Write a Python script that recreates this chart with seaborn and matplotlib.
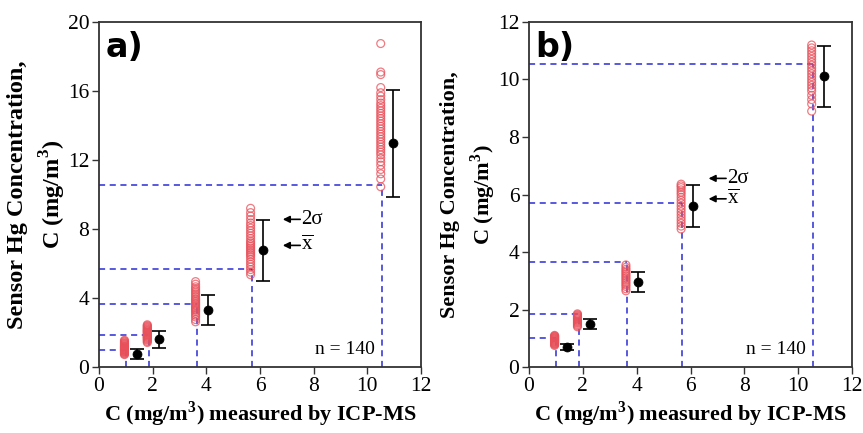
import matplotlib
matplotlib.use("Agg")
import matplotlib.pyplot as plt
import seaborn as sns
import pandas as pd
import numpy as np

# ---------------- data ----------------
ref_conc = [1.0, 1.85, 3.65, 5.7, 10.55]          # ICP-MS reference (mg/m3)
x_ticks = [0, 2, 4, 6, 8, 10, 12]

# panel a: individual sensor readings per reference level
a_g1 = [0.72, 0.76, 0.8, 0.84, 0.88, 0.9, 0.93, 0.96, 0.98, 1.0, 1.02, 1.05, 1.07,
        1.1, 1.12, 1.15, 1.18, 1.2, 1.24, 1.28, 1.32, 1.36, 1.4, 1.45, 1.5, 1.55]
a_g2 = [1.42, 1.48, 1.55, 1.6, 1.65, 1.7, 1.74, 1.78, 1.82, 1.86, 1.9, 1.95, 2.0,
        2.04, 2.08, 2.12, 2.16, 2.2, 2.25, 2.3, 2.35, 2.4, 2.45]
a_g3 = [2.62, 2.75, 2.9, 3.0, 3.1, 3.2, 3.28, 3.35, 3.42, 3.5, 3.58, 3.65, 3.72,
        3.8, 3.88, 3.95, 4.05, 4.15, 4.25, 4.35, 4.45, 4.55, 4.65, 4.8, 4.95]
a_g4 = [5.35, 5.5, 5.65, 5.8, 5.95, 6.1, 6.25, 6.4, 6.5, 6.6, 6.7, 6.8, 6.9, 7.0,
        7.1, 7.2, 7.3, 7.45, 7.6, 7.75, 7.9, 8.05, 8.2, 8.35, 8.55, 8.75, 8.95, 9.2]
a_g5 = [10.45, 10.9, 11.2, 11.45, 11.7, 11.9, 12.1, 12.3, 12.45, 12.6, 12.75, 12.9,
        13.05, 13.2, 13.35, 13.5, 13.65, 13.8, 13.95, 14.1, 14.25, 14.4, 14.55,
        14.7, 14.85, 15.0, 15.15, 15.3, 15.5, 15.7, 15.9, 16.2, 16.95, 17.1, 18.75]
a_mean = [0.77, 1.6, 3.3, 6.78, 12.99]
a_low = [0.46, 1.1, 2.42, 5.0, 9.87]
a_high = [1.06, 2.1, 4.19, 8.52, 16.06]

# panel b
b_g1 = [0.75, 0.78, 0.8, 0.82, 0.84, 0.86, 0.88, 0.9, 0.92, 0.94, 0.96, 0.98,
        1.0, 1.02, 1.04, 1.06, 1.08, 1.1]
b_g2 = [1.4, 1.44, 1.48, 1.52, 1.55, 1.58, 1.61, 1.64, 1.67, 1.7, 1.73, 1.76,
        1.79, 1.82, 1.85]
b_g3 = [2.65, 2.72, 2.8, 2.86, 2.92, 2.98, 3.04, 3.1, 3.16, 3.22, 3.28, 3.34,
        3.4, 3.47, 3.55]
b_g4 = [4.8, 4.9, 5.0, 5.1, 5.2, 5.3, 5.4, 5.5, 5.6, 5.7, 5.8, 5.9, 6.0, 6.08,
        6.16, 6.24, 6.3, 6.36]
b_g5 = [8.9, 9.15, 9.3, 9.45, 9.6, 9.7, 9.8, 9.9, 10.0, 10.1, 10.2, 10.3, 10.4,
        10.5, 10.6, 10.7, 10.8, 10.9, 11.0, 11.1, 11.2]
b_mean = [0.71, 1.48, 2.96, 5.6, 10.12]
b_low = [0.6, 1.31, 2.62, 4.88, 9.05]
b_high = [0.8, 1.67, 3.3, 6.32, 11.18]

mean_xoffset = 0.4
scatter_xoffset = -0.05

# ---------------- style ----------------
sns.set_theme(style="white")
plt.rcParams['font.family'] = ['Liberation Serif', 'DejaVu Serif']
plt.rcParams['mathtext.fontset'] = 'custom'
plt.rcParams['mathtext.rm'] = 'Liberation Serif'
plt.rcParams['mathtext.bf'] = 'Liberation Serif:bold'
plt.rcParams['text.color'] = 'black'
plt.rcParams['axes.labelcolor'] = 'black'
plt.rcParams['xtick.color'] = 'black'
plt.rcParams['ytick.color'] = 'black'

fig = plt.figure(figsize=(8.63, 4.33), dpi=100)
ax_a = fig.add_axes([0.1147, 0.1524, 0.3731, 0.7968])
ax_b = fig.add_axes([0.6130, 0.1524, 0.3743, 0.7968])

dash_col = '#2b2bd6'
pt_col = '#e8505a'


def panel(ax, groups, means, lows, highs, ymax, ystep, letter, arrow_y2s,
          arrow_yx, arrow_x, ylab_size, ylab_pad, ylab_ls):
    rows = []
    for r, g in zip(ref_conc, groups):
        for v in g:
            rows.append({'ref': r + scatter_xoffset, 'sensor': v})
    df = pd.DataFrame(rows)
    # dashed guide lines
    for r in ref_conc:
        ax.plot([0, r], [r, r], ls=(0, (4, 3)), color=dash_col, lw=1.1, zorder=1)
        ax.plot([r, r], [0, r], ls=(0, (4, 3)), color=dash_col, lw=1.1, zorder=1)
    sns.scatterplot(data=df, x='ref', y='sensor', ax=ax, s=32, marker='o',
                    facecolors='none', edgecolor=pt_col, linewidth=0.9,
                    alpha=0.75, zorder=2, legend=False)
    mx = [r + mean_xoffset for r in ref_conc]
    yerr = [np.array(means) - np.array(lows), np.array(highs) - np.array(means)]
    ax.errorbar(mx, means, yerr=yerr, fmt='none', ecolor='black', elinewidth=1.2,
                capsize=5, capthick=1.2, zorder=3)
    sns.scatterplot(x=mx, y=means, ax=ax, s=42, color='black', edgecolor='black',
                    zorder=4, legend=False)

    ax.set_xlim(0, 12)
    ax.set_ylim(0, ymax)
    ax.set_xticks(x_ticks)
    ax.set_yticks(np.arange(0, ymax + 0.01, ystep))
    ax.tick_params(axis='both', which='major', direction='out', length=5, width=1,
                   labelsize=15.5, color='#333333', left=True, bottom=True,
                   top=False, right=False, pad=2)
    for s in ax.spines.values():
        s.set_color('#333333')
        s.set_linewidth(1.3)
    ax.set_xlabel(r'C (mg/m$^{\mathbf{3}}$) measured by ICP-MS', fontsize=16,
                  fontweight='bold', labelpad=3)
    ax.set_ylabel('Sensor Hg Concentration,\nC (mg/m$^{\\mathbf{3}}$)',
                  fontsize=ylab_size, fontweight='bold', labelpad=ylab_pad,
                  linespacing=ylab_ls)
    ax.text(0.02, 0.975, letter, transform=ax.transAxes, ha='left', va='top',
            fontsize=24, fontweight='bold', family='DejaVu Sans')
    ax.text(0.765, 0.05, 'n = 140', transform=ax.transAxes, ha='center',
            va='center', fontsize=14)
    for yv, lab in [(arrow_y2s, '2σ'), (arrow_yx, r'$\overline{\mathrm{x}}$')]:
        ax.annotate('', xy=(arrow_x, yv), xytext=(arrow_x + 0.65, yv),
                    arrowprops=dict(arrowstyle='-|>', color='black', lw=1.2,
                                    mutation_scale=10, shrinkA=0, shrinkB=0))
        ax.text(arrow_x + 0.68, yv, lab, ha='left', va='center', fontsize=15)


panel(ax_a, [a_g1, a_g2, a_g3, a_g4, a_g5], a_mean, a_low, a_high, 20, 4, 'a)',
      8.56, 7.05, 6.85, 17.5, 0, 1.4)
panel(ax_b, [b_g1, b_g2, b_g3, b_g4, b_g5], b_mean, b_low, b_high, 12, 2, 'b)',
      6.56, 5.85, 6.67, 16, 0, 1.4)

fig.savefig('out.png', dpi=100)
